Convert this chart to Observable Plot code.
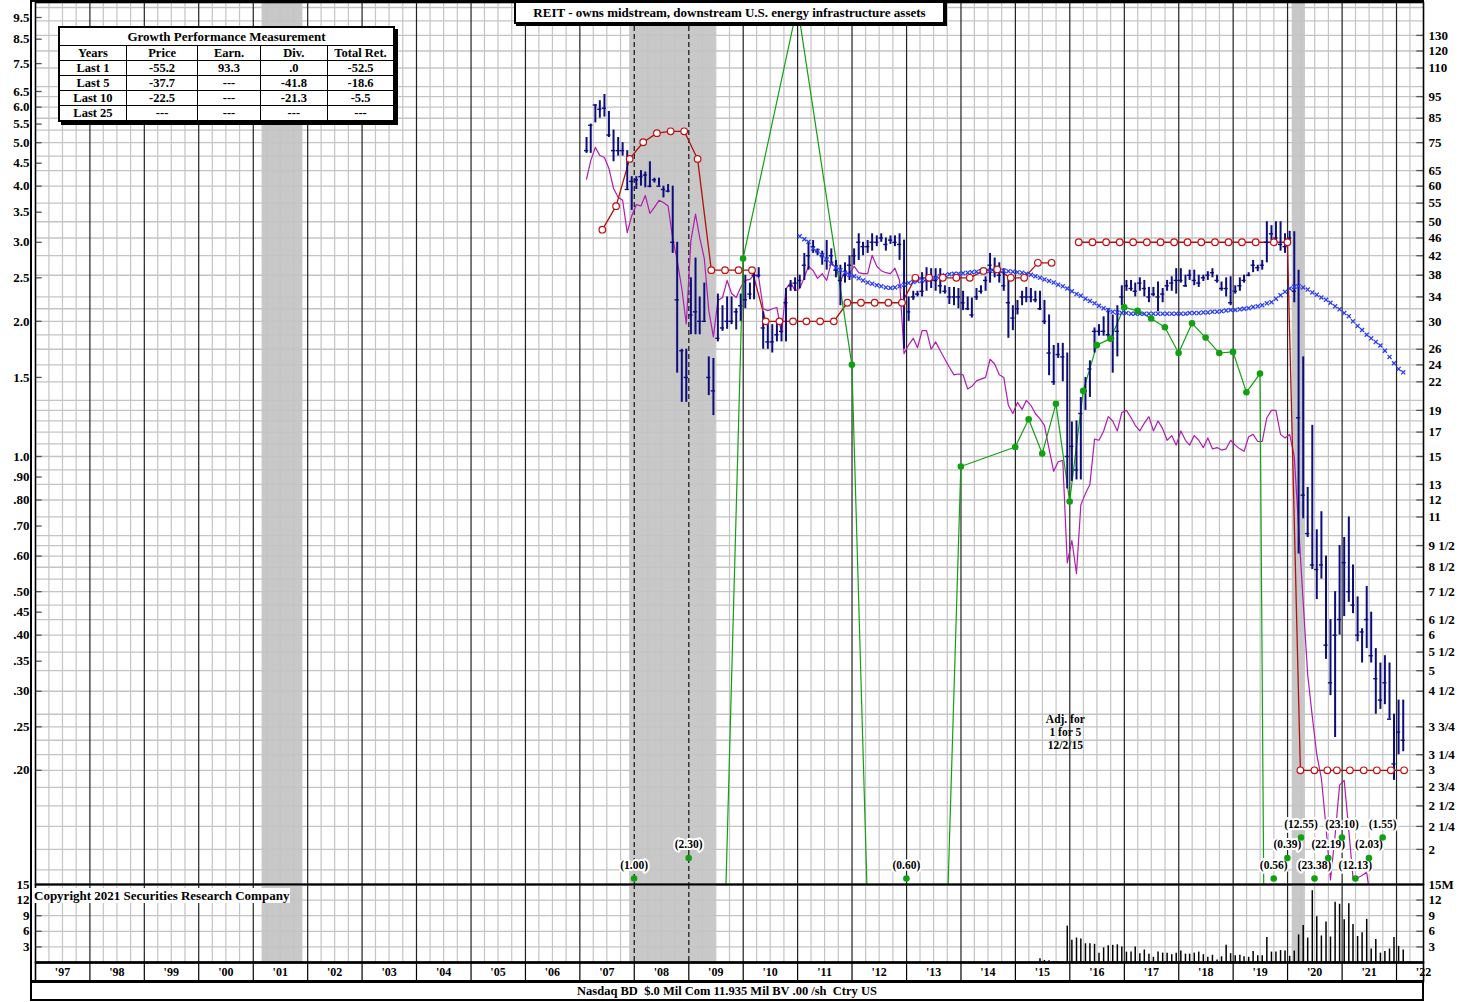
<!DOCTYPE html>
<html><head><meta charset="utf-8">
<script src="https://cdn.jsdelivr.net/npm/d3@7"></script>
<script src="https://cdn.jsdelivr.net/npm/@observablehq/plot@0.6"></script>
<style>
html,body{margin:0;padding:0;background:#fff;}
#wrap{position:relative;width:1471px;height:1002px;overflow:hidden;font-family:"Liberation Serif","Times New Roman",serif;font-weight:bold;color:#000;}
.panel{position:absolute;left:0;}
.panel svg{overflow:visible;display:block;}
svg text{font-weight:bold;}
#title{position:absolute;left:514px;top:1px;width:427px;height:19px;border:2px solid #000;background:#fff;box-shadow:2px 2px 0 #000;font-size:13px;text-align:center;line-height:19px;white-space:nowrap;}
#perf{position:absolute;left:58px;top:26px;width:337px;table-layout:fixed;border-collapse:collapse;background:#fff;box-shadow:3px 3px 0 #000;font-size:12.5px;border:2px solid #000;}
#perf td{border:1px solid #000;text-align:center;padding:0;height:14px;line-height:14px;white-space:nowrap;overflow:hidden;}
#perf td.head{height:17px;line-height:17px;font-size:13px;}
#outerLeft{position:absolute;left:30px;top:1px;width:2px;height:980px;background:#000;}
#outerTop{position:absolute;left:30px;top:0px;width:1394px;height:2px;background:#000;}
#copy{position:absolute;left:33px;top:888px;background:#fff;font-size:13px;line-height:15px;padding:0 1px;white-space:nowrap;}
#footer{position:absolute;left:30px;top:981px;width:1390px;height:16px;border:2px solid #000;font-size:12.5px;text-align:center;line-height:16px;background:#fff;white-space:nowrap;}
</style></head>
<body><div id="wrap"></div>
<script>
// ---------------- DATA ----------------
const chartTitle = "REIT - owns midstream, downstream U.S. energy infrastructure assets";
const copyrightText = "Copyright 2021 Securities Research Company";
const footerText = "Nasdaq BD\u00a0\u00a0$.0 Mil Com 11.935 Mil BV .00 /sh\u00a0\u00a0Ctry US";

const perfTitle = "Growth Performance Measurement";
const perfHeaders = ["Years","Price","Earn.","Div.","Total Ret."];
const perfYears = ["Last 1","Last 5","Last 10","Last 25"];
const perfPrice = ["-55.2","-37.7","-22.5","---"];
const perfEarn = ["93.3","---","---","---"];
const perfDiv = [".0","-41.8","-21.3","---"];
const perfTotal = ["-52.5","-18.6","-5.5","---"];

// monthly price bars ($, right scale) starting Feb 2007
const priceStart = "2007-02";
const priceHigh = [77,82.5,91,93,96,88,80,77,75,72, 63,63,65,64.5,68,62.5,62.5,60,60.5,60,
 45,26,26,37.5,41.5,34,36.5,25,24.8,34.5, 32.5,34,34,32,34.5,38,36.5,39.5,39.5,31.5,
 29.5,29.5,30,29.5,35.5,37,37.5,38,42.5,45, 45.4,43.5,43,45.4,43.5,41,40,40.5,42,43.5,
 47,45,45.4,47,46.5,47,46,46.5,46.5,47, 45.5,34,35,35,38.5,39.5,39.3,39.3,39.3,36,
 35.7,35.7,35.5,35,34,33.8,35.5,36,37.7,42.5, 41.5,40.5,39.3,37.5,32.5,33.4,35,35.7,35.5,35,
 35,33.4,31,26.5,26.8,26.8,25.5,17.9,18,20.3, 22.5,24.5,29,29.5,30.7,32,31,32.5,36,37,
 37,36.5,37.5,37,35.7,35.7,36.7,35.5,37,37.7, 39.3,39.3,38,39,39,38,38,38.7,39.3,38,
 36.7,37.5,37.7,36,37.5,38,38.5,41,40,41, 50,49,50,50,47,47.6,47.5,39,25,12.8,
 17.6,10.3,11.3,9,6.5,7.5,9.5,9.9,11,8.6, 7.3,6.2,7.7,6.75,5.6,5.2,5.4,5.2,4.0,4.3, 4.3];
const priceLow = [71,71,83,85,85.5,77,68,70,70,59, 53,59,60,59.5,59.5,61,60,56.5,58,42.5,
 23,19.8,19.8,28,28,28,30,20.5,18.5,27, 28.5,28.8,29.5,28.7,30,32,33.5,33.5,37.5,26,
 26,25.5,27,27,27,35,35,35.5,37,39, 42.5,42,40,39,40,37.5,32.5,36.5,37,40,
 41,42,42.5,43,44,45,43,44.5,44,41, 26,30,33.4,34,34,35,35.5,35,34.5,34.5,
 32.7,32.5,32,31.7,31.7,30.5,33.4,34.5,35,36.5, 37.5,36.5,35,27.5,28.6,31,32.5,33,33,33,
 31.7,29.5,22.7,21.6,24.8,22,12.7,13.2,13.3,13.3, 19,20.3,25.5,27.8,27.8,27.5,23,25,32.5,35,
 35,34,35,34,33,34,31.5,33,35,35, 34.5,36.5,35.7,37,36,35.7,36.8,37,37.5,36.5,
 35,34,32.5,34.5,35,36.5,37.7,38.5,38.7,39, 40.5,45.4,44.5,43,42.5,44.5,33,9.1,10.9,9.9,
 8.4,7.2,8,5.3,4.4,3.55,6,6.6,7.1,6.7, 5.8,5.2,5.6,5.2,4.0,4.1,4.2,3.9,2.85,3.25, 3.3];
const priceClose = [72,82,91,89,89.5,78,72,72,72,59, 61.5,62,63,63.5,60,62,60,59,58.5,45,
 33.5,25.8,22.5,31,31.5,30,30,22.5,21,27.5, 29,30,30,31.5,32.5,33.5,34.5,38,38,29,
 27,27,28,28.5,33,36,36.5,37,40,42, 44,43,42,41,42,39,37,38,40,42,
 45,44,44,45,45,46,44.5,45.5,45,44.5, 33,31.5,34,34.5,35,37,37,37,36,35,
 34,34,34,33,32,31,34,35,37,40, 39,38,36,33,30.5,32,34,34,34,33.5,
 32,30,25.5,22,25.3,25,15,15.8,14,18.7, 21,23.5,28.5,28.5,28.5,28,27.5,28.5,34,36,
 35.5,35,36.5,35.5,34,34.5,34,34.5,36,36.5, 37,37,36,38,37,36.5,37.5,38,38.5,37,
 35.5,35.5,33,35,36,37,38,40,39.5,40, 45,47,46,44.5,44,46,35,18.3,12.3,10.1,
 8.6,8.4,8.6,5.7,4.7,6,6.5,8.7,7.5,7, 6,6.1,6.5,5.4,4.8,4.3,4.7,3.9,3.1,3.65, 3.5];

// relative strength line (monthly, from Feb 2007), read on the right scale
const rsStart = "2007-02";
const relStrength = [62.2,68.4,73.2,70.2,69.5,65.7,59.3,56.7,55.8,47.3, 51.5,54.6,54.2,57.2,52.2,53.8,55.8,55.2,54.2,45.9,
 41.0,35.5,29.6,45.4,52.0,46.1,41.4,31.7,27.7,33.4, 33.9,37.0,34.6,33.9,35.7,37.0,37.2,38.1,37.6,32.0,
 31.7,32.0,32.2,28.2,35.5,36.6,35.1,35.5,37.6,39.8, 38.9,37.4,38.3,37.0,40.6,39.4,37.0,38.5,38.3,39.8,
 38.5,38.3,38.3,42.1,39.8,38.9,38.5,38.3,39.4,37.0, 25.4,26.6,27.5,26.2,28.6,28.6,26.0,27.0,25.8,24.7,
 23.7,22.8,22.9,22.8,21.2,21.5,22.1,22.3,22.5,24.7, 24.1,22.8,22.5,19.5,18.7,19.8,19.1,20.0,19.5,18.7,
 18.2,17.6,15.6,13.9,14.6,14.7,8.69,9.75,8.23,11.7, 12.4,13.0,16.4,16.3,17.1,18.4,18.0,17.1,18.8,19.0,
 18.3,17.6,17.1,17.8,18.4,17.1,18.0,17.3,16.3,16.7, 15.9,17.1,16.3,15.9,16.7,16.3,15.7,16.5,15.6,15.7,
 15.5,15.6,16.3,15.9,15.6,15.4,16.6,16.8,16.2,16.2, 18.3,19.0,19.0,16.8,16.5,16.8,15.0,10.5,7.1,4.9,
 3.95,3.25,2.88,2.24,1.71,2.15,2.78,2.85,2.20,1.73, 1.73,1.75,1.78,1.5,1.4,1.3];

// moving average (monthly, from Jan 2011)
const maStart = "2011-01";
const movingAvg = [46.4,45.7,45.1,43.6,43.0,42.1,41.2,40.3,39.5,39.0, 38.5,38.1,37.8,37.4,37.0,36.6,36.4,36.1,35.9,35.7,
 35.6,35.7,35.9,36.2,36.5,36.7,36.9,37.0,37.2,37.4, 37.5,37.8,38.0,38.2,38.3,38.3,38.4,38.5,38.6,38.7,
 38.8,38.8,38.9,38.9,38.9,38.9,38.8,38.7,38.6,38.5, 38.3,38.1,37.8,37.5,37.2,36.9,36.6,36.2,35.9,35.5,
 35.0,34.5,34.2,33.7,33.3,32.9,32.5,32.1,31.8,31.5, 31.4,31.3,31.3,31.2,31.2,31.2,31.2,31.2,31.2,31.2,
 31.2,31.2,31.2,31.2,31.2,31.2,31.3,31.3,31.3,31.4, 31.4,31.5,31.5,31.6,31.7,31.8,31.8,31.9,32.0,32.1,
 32.3,32.4,32.6,32.9,33.1,33.7,34.3,34.9,35.5,35.8, 35.9,35.7,35.3,34.8,34.4,33.9,33.5,33.0,32.4,31.9,
 31.3,30.8,30.0,29.3,28.7,28.0,27.5,27.0,26.5,25.8, 25.0,24.2,23.5,23.1];

// monthly volume (millions), from Jun 2015
const volStart = "2015-06";
const volume = [0.72,0.4,0.33,0.2,0.13,0.13,7.0,4.3,4.7,4.5, 3.6,3.6,3.5,1.8,2.8,3.2,3.3,3.4,3.0,2.0,
 2.0,3.0,1.7,2.4,1.6,1.0,2.0,1.8,1.8,1.5, 1.8,2.2,1.6,1.6,1.8,2.0,1.5,1.0,1.4,0.5,
 1.1,3.3,1.7,1.3,1.4,1.1,1.0,2.1,1.3,1.3, 4.8,2.0,2.0,2.3,2.2,1.2,2.2,5.3,7.1,4.7,
 13.8,8.8,5.1,7.8,4.9,11.6,11.2,8.2,11.3,7.3, 5.0,5.7,8.3,2.6,4.4,1.8,2.1,2.6,4.8,3.1, 2.4];

// dividends (left scale); null = break in the line
const divDates = ["2007-06-01","2007-09-01","2007-12-01","2008-03-01","2008-06-01","2008-09-01","2008-12-01","2009-03-01",
 "2009-06-01","2009-09-01","2009-12-01","2010-03-01","2010-06-01","2010-09-01","2010-12-01","2011-03-01","2011-06-01",
 "2011-09-01","2011-12-01","2012-03-01","2012-06-01","2012-09-01","2012-12-01","2013-03-01","2013-06-01","2013-09-01",
 "2013-12-01","2014-03-01","2014-06-01","2014-09-01","2014-12-01","2015-03-01","2015-06-01","2015-09-01","2015-12-01",
 "2016-03-01","2016-06-01","2016-09-01","2016-12-01","2017-03-01","2017-06-01","2017-09-01","2017-12-01","2018-03-01",
 "2018-06-01","2018-09-01","2018-12-01","2019-03-01","2019-06-01","2019-10-01","2019-12-31","2020-03-27","2020-06-29",
 "2020-09-24","2020-11-27","2021-02-22","2021-05-26","2021-08-22","2021-11-24","2022-02-21"];
const divValues = [3.20,3.61,4.60,5.01,5.25,5.30,5.30,4.60, 2.60,2.60,2.60,2.60,2.00,2.00,2.00,2.00,2.00,
 2.00,2.20,2.20,2.20,2.20,2.20,2.50,2.50,2.50, 2.50,2.50,2.59,2.61,2.50,2.50,2.70,2.70,null,
 3.00,3.00,3.00,3.00,3.00,3.00,3.00,3.00,3.00, 3.00,3.00,3.00,3.00,3.00,3.00,3.00,0.20,0.20,
 0.20,0.20,0.20,0.20,0.20,0.20,0.20];

// earnings (left scale)
const earnDates = ["2007-12-31","2008-12-31","2009-12-31","2010-12-31","2011-12-31","2012-12-31","2013-12-31","2014-12-31",
 "2015-03-31","2015-06-30","2015-09-30","2015-12-31","2016-03-31","2016-06-30","2016-09-30","2016-12-31","2017-03-31",
 "2017-06-30","2017-09-30","2017-12-31","2018-03-31","2018-06-30","2018-09-30","2018-12-31","2019-03-31","2019-06-30",
 "2019-09-30","2019-12-31","2020-03-31","2020-06-30","2020-09-30","2020-12-31","2021-03-31","2021-06-30","2021-09-30"];
const earnValues = [-1.00,-2.30,2.76,10.1,1.60,-0.60,0.95,1.05, 1.21,1.015,1.31,0.794,1.40,1.77,1.83,2.15,2.11,
 2.03,1.94,1.70,1.98,1.84,1.70,1.71,1.39,1.53, -0.56,-0.39,-12.55,-23.38,-22.19,-23.10,-12.13,-2.03,-1.55];

const recessions = [["2001-03-01","2001-11-30"],["2007-12-01","2009-06-30"],["2020-02-01","2020-04-30"]];
const splitNote = {date:"2015-12-02", level:3.66, text:"Adj. for\n1 for 5\n12/2/15"};

const leftTicks = [9.5,8.5,7.5,6.5,6.0,5.5,5.0,4.5,4.0,3.5,3.0,2.5,2.0,1.5,1.0,0.90,0.80,0.70,0.60,0.50,0.45,0.40,0.35,0.30,0.25,0.20];
const leftTickLabels = ["9.5","8.5","7.5","6.5","6.0","5.5","5.0","4.5","4.0","3.5","3.0","2.5","2.0","1.5","1.0",".90",".80",".70",".60",".50",".45",".40",".35",".30",".25",".20"];
const rightTicks = [130,120,110,95,85,75,65,60,55,50,46,42,38,34,30,26,24,22,19,17,15,13,12,11,9.5,8.5,7.5,6.5,6,5.5,5,4.5,3.75,3.25,3,2.75,2.5,2.25,2];
const rightTickLabels = ["130","120","110","95","85","75","65","60","55","50","46","42","38","34","30","26","24","22","19","17","15","13","12","11","9 1/2","8 1/2","7 1/2","6 1/2","6","5 1/2","5","4 1/2","3 3/4","3 1/4","3","2 3/4","2 1/2","2 1/4","2"];
const gridValues = [150,140,130,120,110,100,95,90,85,80,75,70,65,60,55,50,46,42,38,34,32,30,28,26,24,22,20,19,18,17,16,15,14,13,12,11,10,9.5,9,8.5,8,7.5,7,6.5,6,5.5,5,4.5,4,3.75,3.5,3.25,3,2.75,2.5,2.25,2,1.8];
const volTicks = [3,6,9,12,15];
const volTickLabelsLeft = ["3","6","9","12","15"];
const volTickLabelsRight = ["3","6","9","12","15M"];
const yearLabels = ["'97","'98","'99","'00","'01","'02","'03","'04","'05","'06","'07","'08","'09","'10","'11","'12","'13","'14","'15","'16","'17","'18","'19","'20","'21","'22"];

// ---------------- SETUP ----------------
const leftRatio = 15;           // left-scale unit -> right (price) scale
const earnFloor = 1e-4;         // where negative earnings are drawn toward
const parse = s => new Date(s.length === 7 ? s + "-01T00:00:00Z" : s + "T00:00:00Z");
const midMonth = (start, i) => d3.utcDay.offset(d3.utcMonth.offset(parse(start), i), 14);
const xDomain = [parse("1997-01-01"), parse("2022-07-01")];
const yDomain = [1.6704, 153.9];
const W = 1471, ML = 35, MR = 48;
const font = '"Liberation Serif","Times New Roman",serif';

const bars = priceHigh.map((h, i) => ({date: midMonth(priceStart, i), high: h, low: priceLow[i], close: priceClose[i]}));
const rs = relStrength.map((v, i) => ({date: midMonth(rsStart, i), v}));
const ma = movingAvg.map((v, i) => ({date: midMonth(maStart, i), v}));
const vols = volume.map((v, i) => ({date: midMonth(volStart, i), v}));
const divs = divDates.map((d, i) => ({date: parse(d), v: divValues[i] == null ? null : divValues[i] * leftRatio}));
const earn = earnDates.map((d, i) => ({date: parse(d), v: earnValues[i]}));
const earnLine = earn.map(d => ({date: d.date, y: (d.v > 0 ? d.v : earnFloor) * leftRatio}));
const earnPos = earn.filter(d => d.v > 0).map(d => ({date: d.date, y: d.v * leftRatio}));
let run = 0; const negEarn = [];
earn.forEach(d => { if (d.v < 0) { negEarn.push({...d, level: run % 3}); run++; } else run = 0; });

const recs = recessions.map(([a, b]) => ({x1: parse(a), x2: parse(b)}));
const inRecession = d => recs.some(r => d >= r.x1 && d <= r.x2);
const yearLines = d3.utcYear.range(parse("1998-01-01"), parse("2022-01-02"));
const solidYears = yearLines.filter(d => !inRecession(d));
const dashYears = yearLines.filter(d => inRecession(d));
const quarterLines = d3.utcMonth.every(3).range(xDomain[0], xDomain[1]).filter(d => d.getUTCMonth() !== 0);
const yearMids = yearLabels.map((_, i) => d3.utcMonth.offset(parse("1997-07-01"), 12 * i));

const stubL = [xDomain[0], d3.utcDay.offset(xDomain[0], 45)];
const stubR = [d3.utcDay.offset(xDomain[1], -45), xDomain[1]];

const verticalGrid = () => [
  Plot.ruleX(quarterLines, {stroke: "#c4c4c4", strokeWidth: 1.2}),
  Plot.ruleX(solidYears, {stroke: "#222", strokeWidth: 1.2}),
  Plot.ruleX(dashYears, {stroke: "#111", strokeWidth: 1.2, strokeDasharray: "5,3"})
];
const labelsLeft = (vals, labels, fy) => Plot.text(vals, {y: fy, text: (d, i) => labels[i], frameAnchor: "left", textAnchor: "end", dx: -6, fontSize: 13, fill: "#000"});
const labelsRight = (vals, labels, fy) => Plot.text(vals, {y: fy, text: (d, i) => labels[i], frameAnchor: "right", textAnchor: "start", dx: 5, fontSize: 13, fill: "#000"});

// ---------------- PRICE PANEL ----------------
const price = Plot.plot({
  width: W, height: 886, marginLeft: ML, marginRight: MR, marginTop: 2, marginBottom: 2,
  x: {type: "utc", domain: xDomain, axis: null},
  y: {type: "log", domain: yDomain, axis: null},
  style: {fontFamily: font, fontSize: "13px", background: "transparent", color: "#000"},
  marks: [
    Plot.rect(recs, {x1: "x1", x2: "x2", fill: "#c8c8c8"}),
    Plot.ruleY(gridValues, {stroke: "#c4c4c4", strokeWidth: 1.3}),
    ...verticalGrid(),
    Plot.ruleY(leftTicks, {y: d => d * leftRatio, x1: stubL[0], x2: stubL[1], stroke: "#555", strokeWidth: 1.3}),
    Plot.ruleY(rightTicks, {x1: stubR[0], x2: stubR[1], stroke: "#555", strokeWidth: 1.3}),
    Plot.line(rs, {x: "date", y: "v", stroke: "#b01cb0", strokeWidth: 1.2, clip: true}),
    Plot.line(divs, {x: "date", y: "v", stroke: "#b01010", strokeWidth: 1.3}),
    Plot.line(earnLine, {x: "date", y: "y", stroke: "#11a011", strokeWidth: 1.2, clip: true}),
    Plot.ruleX(bars, {x: "date", y1: "low", y2: "high", stroke: "#0c0c7c", strokeWidth: 2}),
    Plot.ruleY(bars, {y: "close", x1: d => d3.utcDay.offset(d.date, -14), x2: d => d3.utcDay.offset(d.date, 14), stroke: "#0c0c7c", strokeWidth: 1.4}),
    Plot.dot(ma, {x: "date", y: "v", symbol: "times", r: 2, stroke: "#2a3cf0", strokeWidth: 1.3}),
    Plot.dot(divs, {x: "date", y: "v", r: 3.3, fill: "white", stroke: "#c01010", strokeWidth: 1.2}),
    Plot.dot(earnPos, {x: "date", y: "y", r: 3.3, fill: "#11a011"}),
    ...[0, 1, 2].flatMap(level => [
      Plot.text(negEarn.filter(d => d.level === level), {x: "date", frameAnchor: "bottom", dy: -16 - 20.5 * level,
        text: d => `(${Math.abs(d.v).toFixed(2)})`, fontSize: 11.5, fill: "#000", stroke: "white", strokeWidth: 4}),
      Plot.dot(negEarn.filter(d => d.level === level), {x: "date", frameAnchor: "bottom", dy: -6 - 20.5 * level, r: 3.3, fill: "#11a011"})
    ]),
    Plot.text([splitNote], {x: d => parse(d.date), y: "level", text: "text", fontSize: 11.5, lineHeight: 1.15, fill: "#000"}),
    Plot.frame({stroke: "#000", strokeWidth: 1.6}),
    labelsLeft(leftTicks, leftTickLabels, d => d * leftRatio),
    labelsRight(rightTicks, rightTickLabels, d => d)
  ]
});

// ---------------- VOLUME PANEL ----------------
const volPlot = Plot.plot({
  width: W, height: 78, marginLeft: ML, marginRight: MR, marginTop: 0, marginBottom: 0,
  x: {type: "utc", domain: xDomain, axis: null},
  y: {domain: [0, 15], axis: null},
  style: {fontFamily: font, fontSize: "13px", background: "transparent", color: "#000"},
  marks: [
    Plot.rect(recs, {x1: "x1", x2: "x2", fill: "#c8c8c8"}),
    Plot.ruleY(volTicks.slice(0, 4), {stroke: "#c4c4c4", strokeWidth: 1.3}),
    ...verticalGrid(),
    Plot.ruleY(volTicks, {x1: stubL[0], x2: stubL[1], stroke: "#555", strokeWidth: 1.3}),
    Plot.ruleY(volTicks, {x1: stubR[0], x2: stubR[1], stroke: "#555", strokeWidth: 1.3}),
    Plot.ruleX(vols, {x: "date", y1: 0, y2: "v", stroke: "#000", strokeWidth: 1.5}),
    Plot.ruleY([0], {stroke: "#000", strokeWidth: 2.5}),
    Plot.ruleY([15], {stroke: "#444", strokeWidth: 2}),
    Plot.frame({stroke: "#000", strokeWidth: 1.6}),
    labelsLeft(volTicks, volTickLabelsLeft, d => d),
    labelsRight(volTicks, volTickLabelsRight, d => d)
  ]
});

// ---------------- YEAR LABEL ROW ----------------
const xRow = Plot.plot({
  width: W, height: 19, marginLeft: ML, marginRight: MR, marginTop: 0, marginBottom: 0,
  x: {type: "utc", domain: xDomain, axis: null},
  style: {fontFamily: font, fontSize: "12px", background: "transparent", color: "#000"},
  marks: [
    Plot.ruleX(yearLines, {stroke: "#000", strokeWidth: 1.2}),
    Plot.text(yearMids, {x: d => d, text: (d, i) => yearLabels[i], fontSize: 12, fill: "#000"}),
    Plot.frame({stroke: "#000", strokeWidth: 1.6})
  ]
});

// ---------------- ASSEMBLE ----------------
const wrap = document.getElementById("wrap");
function place(node, top) { const d = document.createElement("div"); d.className = "panel"; d.style.top = top + "px"; d.appendChild(node); wrap.appendChild(d); }
place(price, 0);
place(volPlot, 884);
place(xRow, 962);

const bottomLine = document.createElement("div");
bottomLine.style.cssText = "position:absolute;left:30px;top:980px;width:1394px;height:2px;background:#000";
wrap.appendChild(bottomLine);
["outerLeft", "outerTop"].forEach(id => { const d = document.createElement("div"); d.id = id; wrap.appendChild(d); });

const title = document.createElement("div"); title.id = "title"; title.textContent = chartTitle; wrap.appendChild(title);

const tbl = document.createElement("table"); tbl.id = "perf";
const colW = [67, 71, 62, 67, 66];
let html = `<colgroup>${colW.map(w => `<col style="width:${w}px">`).join("")}</colgroup><tr><td class="head" colspan="5">${perfTitle}</td></tr><tr>` + perfHeaders.map(h => `<td>${h}</td>`).join("") + "</tr>";
perfYears.forEach((y, i) => { html += `<tr><td>${y}</td><td>${perfPrice[i]}</td><td>${perfEarn[i]}</td><td>${perfDiv[i]}</td><td>${perfTotal[i]}</td></tr>`; });
tbl.innerHTML = html; wrap.appendChild(tbl);

const cp = document.createElement("div"); cp.id = "copy"; cp.textContent = copyrightText; wrap.appendChild(cp);
const ft = document.createElement("div"); ft.id = "footer"; ft.textContent = footerText; wrap.appendChild(ft);
</script>
</body></html>
